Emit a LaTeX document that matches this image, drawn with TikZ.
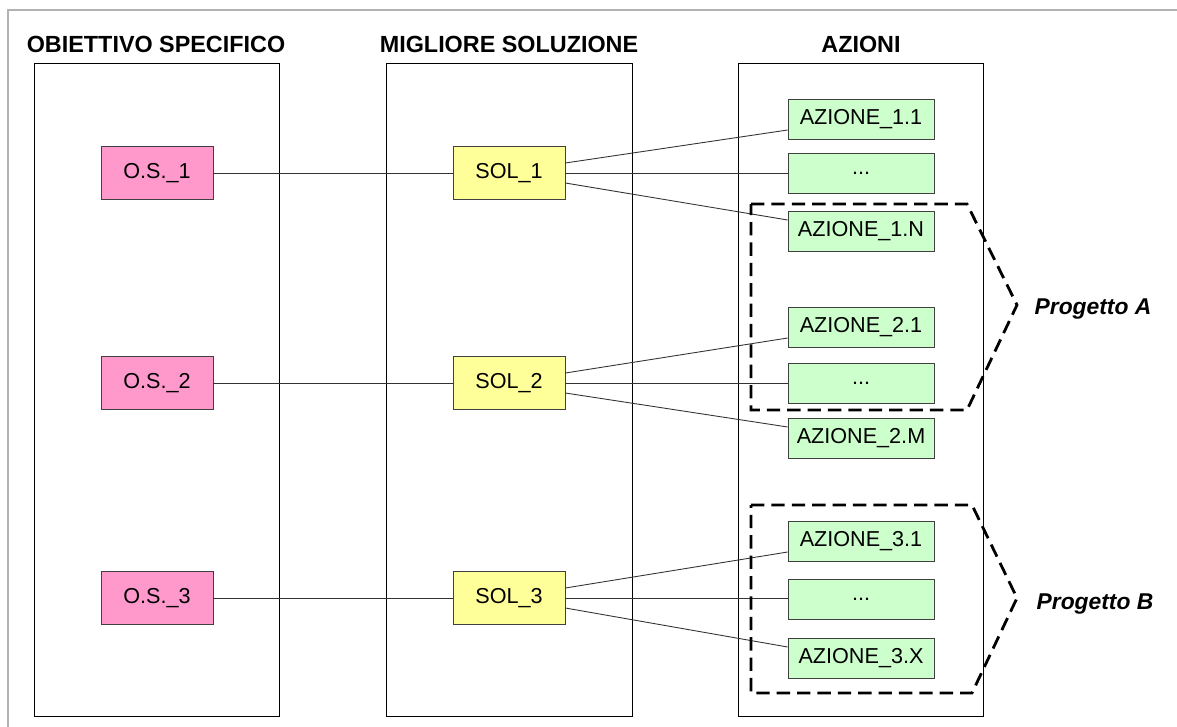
\documentclass[tikz,border=0pt]{standalone}
\usepackage{fontspec}
\setmainfont{Liberation Sans}
\definecolor{ospink}{HTML}{FF99CC}
\definecolor{solyellow}{HTML}{FFFF99}
\definecolor{azgreen}{HTML}{CCFFCC}
\tikzset{
  colbox/.style={draw=black, line width=0.5pt},
  header/.style={font=\fontsize{13.3}{15}\selectfont\bfseries},
  osbox/.style={draw=black!75, fill=ospink, minimum width=2.24cm, minimum height=1.06cm, font=\fontsize{12.3}{14}\selectfont},
  solbox/.style={osbox, fill=solyellow},
  azbox/.style={draw=black!75, fill=azgreen, minimum width=2.92cm, minimum height=0.8cm, font=\fontsize{12.3}{14}\selectfont},
  link/.style={draw=black!80, line width=0.5pt},
  progetto/.style={draw=black, line width=1.6pt, dash pattern=on 7.6pt off 4pt},
  projlabel/.style={font=\fontsize{13}{15}\selectfont\bfseries\itshape}
}
\begin{document}
\begin{tikzpicture}[x=0.02cm, y=-0.02cm]
        \def\top{63}
        \def\bot{716}
        \useasboundingbox (0,0) rectangle (1177,727);
        \draw[black!30, line width=1.2pt] (8,1200) -- (8,10) -- (1300,10);

        % columns
        \draw[colbox] (34,\top) rectangle (279,\bot);
        \draw[colbox] (386,\top) rectangle (632,\bot);
        \draw[colbox] (738,\top) rectangle (983,\bot);
        \node[header] (hos) at (156,44) {OBIETTIVO SPECIFICO};
        \node[header] (hsol) at (509,44) {MIGLIORE SOLUZIONE};
        \node[header] (haz) at (861,44) {AZIONI};

        % objectives and solutions
        \node[osbox] (os1) at (157,173) {O.S.\_1};
        \node[osbox] (os2) at (157,383) {O.S.\_2};
        \node[osbox] (os3) at (157,598) {O.S.\_3};
        \node[solbox] (sol1) at (509,173) {SOL\_1};
        \node[solbox] (sol2) at (509,383) {SOL\_2};
        \node[solbox] (sol3) at (509,598) {SOL\_3};

        % actions
        \node[azbox] (az11) at (861,119) {AZIONE\_1.1};
        \node[azbox] (az1x) at (861,173) {...};
        \node[azbox] (az1n) at (861,231) {AZIONE\_1.N};
        \node[azbox] (az21) at (861,327) {AZIONE\_2.1};
        \node[azbox] (az2x) at (861,383) {...};
        \node[azbox] (az2m) at (861,438) {AZIONE\_2.M};
        \node[azbox] (az31) at (861,541) {AZIONE\_3.1};
        \node[azbox] (az3x) at (861,599) {...};
        \node[azbox] (az3n) at (861,658) {AZIONE\_3.X};

        \draw[link] (os1) -- (sol1);
        \draw[link] (os2) -- (sol2);
        \draw[link] (os3) -- (sol3);
        \draw[link] ([yshift=2mm]sol1.east) -- ([yshift=-2.2mm]az11.west);
        \draw[link] (sol1.east) -- (sol1.east -| az1x.west);
        \draw[link] ([yshift=-2mm]sol1.east) -- ([yshift=2.2mm]az1n.west);
        \draw[link] ([yshift=2mm]sol2.east) -- ([yshift=-2.2mm]az21.west);
        \draw[link] (sol2.east) -- (sol2.east -| az2x.west);
        \draw[link] ([yshift=-2mm]sol2.east) -- ([yshift=2.2mm]az2m.west);
        \draw[link] ([yshift=2mm]sol3.east) -- ([yshift=-2.2mm]az31.west);
        \draw[link] (sol3.east) -- (sol3.east -| az3x.west);
        \draw[link] ([yshift=-2mm]sol3.east) -- ([yshift=2.2mm]az3n.west);

        % projects
        \draw[progetto] (751,204) -- (967,204) -- (1017,305) -- (967,410) -- (751,410) -- cycle;
        \draw[progetto] (751,505) -- (972,505) -- (1017,598) -- (972,693) -- (751,693) -- cycle;
        \node[projlabel] (pa) at (1093,309) {Progetto A};
        \node[projlabel] (pb) at (1095,604) {Progetto B};
\end{tikzpicture}
\end{document}
